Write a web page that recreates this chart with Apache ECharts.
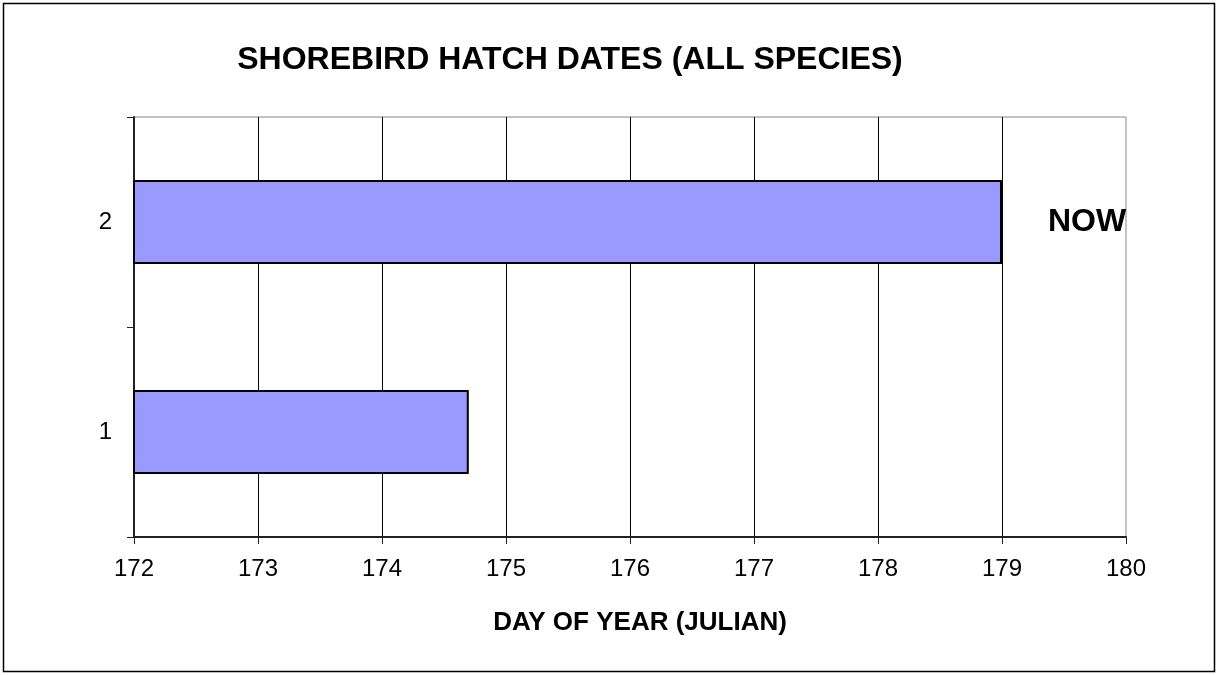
<!DOCTYPE html>
<html>
<head>
<meta charset="utf-8">
<script src="https://cdn.jsdelivr.net/npm/echarts@6/dist/echarts.min.js"></script>
<style>
  html, body { margin: 0; padding: 0; background: #fff; }
  #chart { width: 1218px; height: 675px; }
</style>
</head>
<body>
<div id="chart"></div>
<script>
// chart data
const categories = ['1', '2'];
const hatchDays = [174.7, 179];
const barNotes = ['', 'NOW'];
const xMin = 172;
const xMax = 180;

const FONT = 'Liberation Sans, Arial, sans-serif';

const chart = echarts.init(document.getElementById('chart'), null, { renderer: 'canvas' });

chart.setOption({
    animation: false,
    backgroundColor: '#fff',
    textStyle: { fontFamily: FONT },
    grid: {
        left: 134,
        right: 92,
        top: 117,
        bottom: 138,
        show: true,
        borderColor: '#888',
        borderWidth: 1
    },
    xAxis: {
        type: 'value',
        min: xMin,
        max: xMax,
        interval: 1,
        axisLine: { show: true, lineStyle: { color: '#222', width: 2 } },
        axisTick: { show: true, length: 7, lineStyle: { color: '#222' } },
        axisLabel: { color: '#000', fontSize: 24, margin: 20 },
        splitLine: { show: true, showMaxLine: false, lineStyle: { color: '#000', width: 1 } }
    },
    yAxis: {
        type: 'category',
        data: categories,
        axisLine: { show: true, lineStyle: { color: '#222', width: 2 } },
        axisTick: { show: true, length: 7, lineStyle: { color: '#222' } },
        axisLabel: { color: '#000', fontSize: 24, margin: 22 },
        splitLine: { show: false }
    },
    series: [{
        type: 'bar',
        data: hatchDays,
        barWidth: '40%',
        itemStyle: { color: '#9999ff', borderColor: '#000', borderWidth: 2 },
        label: {
            show: true,
            position: 'right',
            distance: 46,
            formatter: p => barNotes[p.dataIndex],
            color: '#000',
            fontSize: 32,
            fontWeight: 'bold'
        }
    }],
    graphic: [
        {
            type: 'text',
            x: 570,
            y: 60,
            style: {
                text: 'SHOREBIRD HATCH DATES (ALL SPECIES)',
                fontSize: 32,
                fontWeight: 'bold',
                fill: '#000',
                textAlign: 'center',
                textVerticalAlign: 'middle',
                fontFamily: FONT
            }
        },
        {
            type: 'text',
            x: 640,
            y: 623,
            style: {
                text: 'DAY OF YEAR (JULIAN)',
                fontSize: 26,
                fontWeight: 'bold',
                fill: '#000',
                textAlign: 'center',
                textVerticalAlign: 'middle',
                fontFamily: FONT
            }
        },
        {
            type: 'rect',
            shape: { x: 3.5, y: 3.5, width: 1211, height: 668 },
            style: { fill: 'none', stroke: '#000', lineWidth: 1.5 },
            silent: true
        }
    ]
});
</script>
</body>
</html>
